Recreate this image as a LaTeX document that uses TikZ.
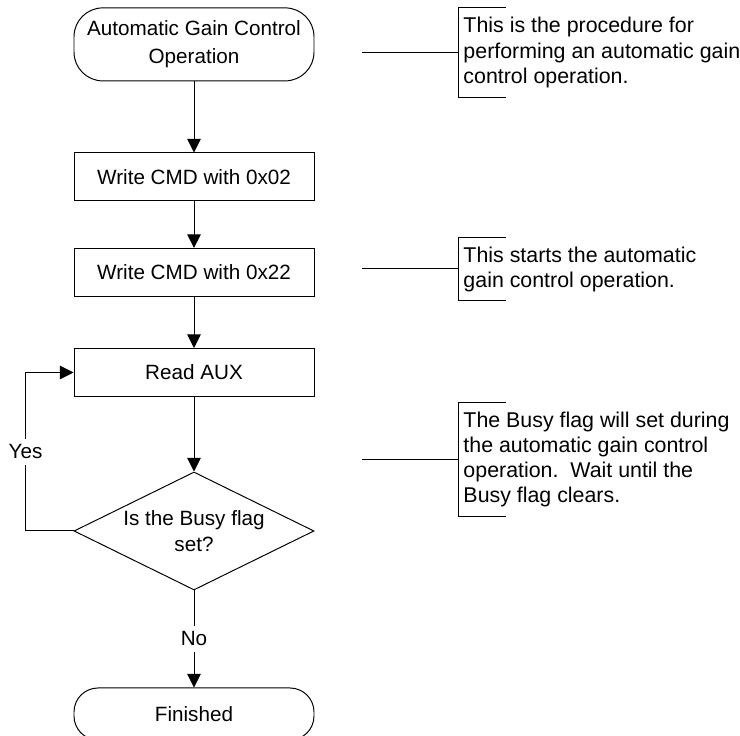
\documentclass[tikz,border=0pt]{standalone}
\usepackage{fontspec}
\setmainfont{Liberation Sans}
\usetikzlibrary{arrows.meta, shapes.geometric}

\begin{document}
\begin{tikzpicture}[
    font=\fontsize{14.7pt}{18pt}\selectfont,
    line width=0.7pt,
    term/.style={draw, rounded corners=0.6cm, align=center, inner sep=0pt,
                 minimum width=6cm, minimum height=1.3cm},
    box/.style={draw, align=center, inner sep=0pt,
                minimum width=6cm, minimum height=1.2cm},
    test/.style={draw, diamond, aspect=2, align=center, inner sep=0pt,
                 minimum width=6cm, minimum height=2.95cm},
    note/.style={anchor=west, align=left, inner xsep=0.125cm, inner ysep=0pt,
                 font=\fontsize{15.2pt}{17.8pt}\selectfont},
    lbl/.style={fill=white, inner sep=0.15cm},
    arr/.style={-{Triangle[length=0.34cm, width=0.34cm]}}
]
\useasboundingbox (0,0) rectangle (18.5,18.4);

% flow
\node[term, rounded corners=0.72cm, minimum height=1.825cm] (start) at (4.85,17.29)
    {Automatic Gain Control\\[2pt]Operation};
\node[box]  (cmd02) at (4.85,13.975) {Write CMD with 0x02};
\node[box]  (cmd22) at (4.85,11.59)  {Write CMD with 0x22};
\node[box]  (aux)   at (4.85,9.0875) {Read AUX};
\node[test] (busy)  at (4.85,5.125)  {Is the Busy flag\\set?};
\node[term] (done)  at (4.85,0.55)   {Finished};

\draw[arr] (start) -- (cmd02);
\draw[arr] (cmd02) -- (cmd22);
\draw[arr] (cmd22) -- (aux);
\draw[arr] (aux) -- (busy);
\draw[arr] (busy.west) -- ++(-1.2,0) |- node[lbl, pos=0.25] {Yes} (aux.west);
\draw[arr] (busy) -- node[lbl] {No} (done);

% notes
\node[note, minimum height=2.225cm] (note1) at (11.45,17.0875)
    {This is the procedure for\\performing an automatic gain\\control operation.};
\node[note, minimum height=1.55cm] (note2) at (11.45,11.675)
    {This starts the automatic\\gain control operation.};
\node[note, minimum height=2.82cm] (note3) at (11.45,6.9075)
    {The Busy flag will set during\\the automatic gain control\\operation.\ \ Wait until the\\Busy flag clears.};

\coordinate (lead1) at (9.05,17.0875);
\coordinate (lead2) at (9.05,11.675);
\coordinate (lead3) at (9.05,6.9075);

\draw (lead1) -- (note1.west);
\draw ([xshift=1.2cm]note1.north west) -- (note1.north west) -- (note1.south west) -- ([xshift=1.2cm]note1.south west);
\draw (lead2) -- (note2.west);
\draw ([xshift=1.2cm]note2.north west) -- (note2.north west) -- (note2.south west) -- ([xshift=1.2cm]note2.south west);
\draw (lead3) -- (note3.west);
\draw ([xshift=1.2cm]note3.north west) -- (note3.north west) -- (note3.south west) -- ([xshift=1.2cm]note3.south west);
\end{tikzpicture}
\end{document}
